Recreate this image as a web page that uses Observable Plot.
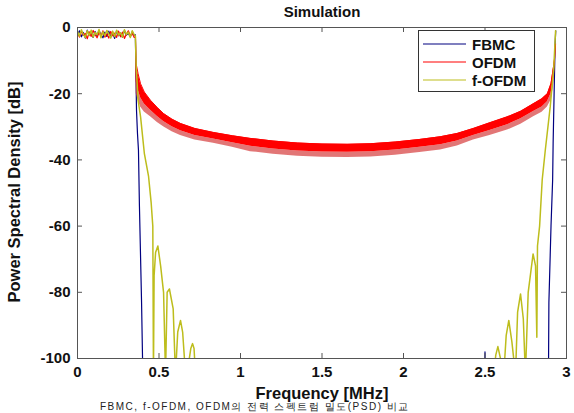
<!DOCTYPE html>
<html>
<head>
<meta charset="utf-8">
<script src="https://cdn.jsdelivr.net/npm/d3@7"></script>
<script src="https://cdn.jsdelivr.net/npm/@observablehq/plot@0.6"></script>
<style>
  html, body { margin: 0; padding: 0; background: #fff; overflow: hidden; }
  #wrap { position: relative; width: 574px; height: 413px; font-family: "Liberation Sans", Arial, sans-serif; font-weight: bold; color: #111; }
  #wrap svg { position: absolute; left: 0; top: 0; }
  .lbl { position: absolute; white-space: nowrap; font-weight: bold; }
</style>
</head>
<body>
<div id="wrap"></div>
<script>
// ---- tick labels ----
const xTicks = [0, 0.5, 1, 1.5, 2, 2.5, 3];
const yTicks = [0, -20, -40, -60, -80, -100];

// ---- in-band region (0 .. 0.35 MHz), shared frequency grid ----
const inbandF = [0,0.012,0.024,0.036,0.048,0.06,0.072,0.084,0.096,0.108,0.12,0.132,0.144,0.156,0.168,0.18,0.192,0.204,0.216,0.228,0.24,0.252,0.264,0.276,0.288,0.3,0.312,0.324,0.336,0.348];

// ---- FBMC ----
const fbmcInband = [-2.1,-1.0,-2.8,-1.5,-3.2,-0.8,-2.4,-1.9,-3.0,-1.2,-2.6,-0.9,-2.2,-3.1,-1.4,-2.7,-1.1,-2.9,-1.7,-3.3,-1.0,-2.5,-1.6,-3.0,-0.9,-2.3,-1.8,-2.8,-1.3,-2.4];
const fbmcEdgeF = [0.355,0.362,0.368,0.374,0.380,0.393,0.399,0.41,2.49,2.5,2.503,2.51,2.88,2.89,2.892,2.905,2.915,2.918,2.93,2.934];
const fbmcEdgeDb = [-2.2,-25,-32,-37,-54,-83,-100,-150,-150,-98,-150,-150,-150,-100,-83,-60,-46,-35,-5,-1];

// ---- OFDM ----
const ofdmInband = [-1.6,-2.9,-1.1,-2.4,-1.8,-3.4,-1.3,-2.7,-0.9,-2.2,-3.1,-1.5,-2.6,-1.0,-2.9,-1.9,-3.2,-1.2,-2.5,-1.7,-3.0,-1.1,-2.8,-1.4,-3.3,-2.0,-1.0,-2.6,-1.8,-3.0];
const ofdmF   = [0.356,0.36,0.372,0.387,0.41,0.448,0.49,0.528,0.58,0.632,0.72,0.834,0.95,1.061,1.2,1.35,1.5,1.656,1.8,1.95,2.1,2.227,2.33,2.429,2.53,2.638,2.72,2.798,2.85,2.883,2.905,2.92,2.928,2.933];
const ofdmTop = [-3,-11,-14,-17,-19.5,-22,-24.2,-26,-27.7,-29,-30.5,-31.7,-32.7,-33.5,-34.3,-34.9,-35.2,-35.3,-35.1,-34.6,-33.8,-33,-32,-30.5,-28.8,-27,-25.3,-23,-21.5,-20,-17,-12,-9,-5];
const ofdmMid = [-8.4,-16.4,-18.8,-21.2,-23.1,-25,-26.9,-28.4,-30,-31.2,-32.6,-33.7,-34.8,-35.9,-36.7,-37.3,-37.6,-37.7,-37.5,-37,-36.2,-35.4,-34.3,-32.6,-31.1,-29.4,-27.6,-25.4,-24,-22.4,-20,-15.6,-12,-8];
const ofdmBot = [-12,-20,-22,-24,-25.5,-27,-28.7,-30,-31.5,-32.6,-34,-35,-36.2,-37.5,-38.3,-38.9,-39.2,-39.3,-39.1,-38.6,-37.8,-37,-35.8,-34,-32.6,-31,-29.2,-27,-25.6,-24,-22,-18,-14,-10];

// ---- f-OFDM ----
const fofdmInband = [-1.2,-2.6,-0.7,-2.1,-3.0,-1.0,-2.4,-0.8,-2.9,-1.5,-2.2,-0.6,-3.1,-1.3,-2.5,-0.9,-2.0,-3.2,-1.1,-2.7,-0.8,-2.3,-1.6,-2.9,-0.7,-2.1,-1.4,-3.0,-1.0,-2.2];
const fofdmEdgeF = [0.355,0.36,0.372,0.387,0.41,0.436,0.452,0.462,0.466,0.47,0.479,0.493,0.51,0.528,0.54,0.55,0.564,0.587,0.601,0.615,0.632,0.645,0.663,0.68,0.695,0.706,0.715,0.724,0.735,
                    2.54,2.554,2.566,2.579,2.595,2.615,2.63,2.646,2.665,2.687,2.70,2.718,2.735,2.748,2.765,2.795,2.81,2.818,2.822,2.835,2.851,2.87,2.9,2.922,2.933];
const fofdmEdgeDb = [-2.5,-12,-22,-27,-38,-45,-53,-60,-105,-75,-68,-66,-72,-80,-105,-80,-79,-85,-105,-92,-88.5,-92,-105,-102,-97,-95.5,-97,-105,-150,
                     -150,-105,-99,-96.4,-100,-105,-93,-88.5,-95,-105,-86,-80.5,-88,-105,-80,-68.4,-72,-93.6,-66,-60,-46,-37,-24,-12,-1];

// ---- legend ----
const seriesNames = ["FBMC", "OFDM", "f-OFDM"];
const seriesColors = ["#000080", "#ff0000", "#bdbd1c"];

// ---- build tables ----
const fbmc = inbandF.map((f, i) => ({f, db: fbmcInband[i]}))
  .concat(fbmcEdgeF.map((f, i) => ({f, db: fbmcEdgeDb[i]})));
const ofdmIn = inbandF.map((f, i) => ({f, db: ofdmInband[i]})).concat([{f: 0.356, db: -3}]);
const ofdmBand = ofdmF.map((f, i) => ({f, top: ofdmTop[i], mid: ofdmMid[i], bot: ofdmBot[i]}));
const fofdm = inbandF.map((f, i) => ({f, db: fofdmInband[i]}))
  .concat(fofdmEdgeF.map((f, i) => ({f, db: fofdmEdgeDb[i]})));

const W = 574, H = 413;
const mL = 77, mR = 8, mT = 27, mB = 55;
const fw = W - mL - mR, fh = H - mT - mB;
const tl = 5;

const chart = Plot.plot({
  width: W, height: H,
  marginLeft: mL, marginRight: mR, marginTop: mT, marginBottom: mB,
  style: {fontFamily: '"Liberation Sans", Arial, sans-serif', fontWeight: "bold", fontSize: "15px", color: "#111", background: "white"},
  x: {domain: [0, 3], ticks: xTicks},
  y: {domain: [-100, 0], ticks: yTicks},
  marks: [
    Plot.line(fbmc, {x: "f", y: "db", stroke: seriesColors[0], strokeWidth: 1.2, clip: true}),
    Plot.line(ofdmIn, {x: "f", y: "db", stroke: seriesColors[1], strokeWidth: 1.2, clip: true}),
    Plot.areaY(ofdmBand, {x: "f", y1: "mid", y2: "bot", fill: "#d84848", fillOpacity: 0.75, curve: "linear", clip: true}),
    Plot.areaY(ofdmBand, {x: "f", y1: "top", y2: "mid", fill: seriesColors[1], curve: "linear", clip: true}),
    Plot.line(ofdmBand, {x: "f", y: "top", stroke: seriesColors[1], strokeWidth: 1, clip: true}),
    Plot.line(fofdm, {x: "f", y: "db", stroke: seriesColors[2], strokeWidth: 1.5, clip: true}),
    Plot.frame({stroke: "#555", strokeWidth: 1}),
    Plot.tickX(xTicks, {x: d => d, stroke: "#555", insetTop: fh - tl}),
    Plot.tickX(xTicks, {x: d => d, stroke: "#555", insetBottom: fh - tl}),
    Plot.tickY(yTicks, {y: d => d, stroke: "#555", insetRight: fw - tl}),
    Plot.tickY(yTicks, {y: d => d, stroke: "#555", insetLeft: fw - tl}),
    Plot.axisX(xTicks, {tickSize: 0, tickPadding: 8, label: null, fontSize: 15, fontWeight: "bold", tickFormat: d => String(d)}),
    Plot.axisY(yTicks, {tickSize: 0, tickPadding: 7, label: null, fontSize: 15, fontWeight: "bold", tickFormat: d => String(d)})
  ]
});

const wrap = document.getElementById("wrap");
wrap.appendChild(chart);

function addLabel(text, css) {
  const d = document.createElement("div");
  d.className = "lbl";
  d.textContent = text;
  Object.assign(d.style, css);
  wrap.appendChild(d);
  return d;
}
addLabel("Simulation", {left: "0px", width: "574px", top: "3px", textAlign: "center", fontSize: "15px", paddingLeft: "70px", boxSizing: "border-box"});
addLabel("Frequency [MHz]", {left: "0px", width: "574px", top: "384px", textAlign: "center", fontSize: "16.5px", paddingLeft: "70px", boxSizing: "border-box"});
addLabel("Power Spectral Density [dB]", {left: "14px", top: "192px", fontSize: "16.5px", transform: "translate(-50%,-50%) rotate(-90deg)"});
addLabel("FBMC, f-OFDM, OFDM의 전력 스펙트럼 밀도(PSD) 비교", {left: "100px", top: "401px", fontSize: "10px", lineHeight: "11px", fontWeight: "normal", color: "#222", letterSpacing: "1.5px"});

// legend
const ns = "http://www.w3.org/2000/svg";
const leg = document.createElementNS(ns, "svg");
leg.setAttribute("width", 118);
leg.setAttribute("height", 63);
leg.style.left = "418px";
leg.style.top = "30px";
const box = document.createElementNS(ns, "rect");
box.setAttribute("x", 0.5); box.setAttribute("y", 0.5);
box.setAttribute("width", 116); box.setAttribute("height", 61);
box.setAttribute("fill", "white"); box.setAttribute("stroke", "#333");
leg.appendChild(box);
seriesNames.forEach((name, i) => {
  const y = 14 + i * 18;
  const ln = document.createElementNS(ns, "line");
  ln.setAttribute("x1", 5); ln.setAttribute("x2", 48);
  ln.setAttribute("y1", y); ln.setAttribute("y2", y);
  ln.setAttribute("stroke", seriesColors[i]); ln.setAttribute("stroke-width", 1.2);
  leg.appendChild(ln);
  const t = document.createElementNS(ns, "text");
  t.setAttribute("x", 54); t.setAttribute("y", y + 5.5);
  t.setAttribute("font-size", "15px"); t.setAttribute("font-weight", "bold");
  t.setAttribute("font-family", '"Liberation Sans", Arial, sans-serif');
  t.setAttribute("fill", "#111");
  t.textContent = name;
  leg.appendChild(t);
});
wrap.appendChild(leg);
</script>
</body>
</html>
